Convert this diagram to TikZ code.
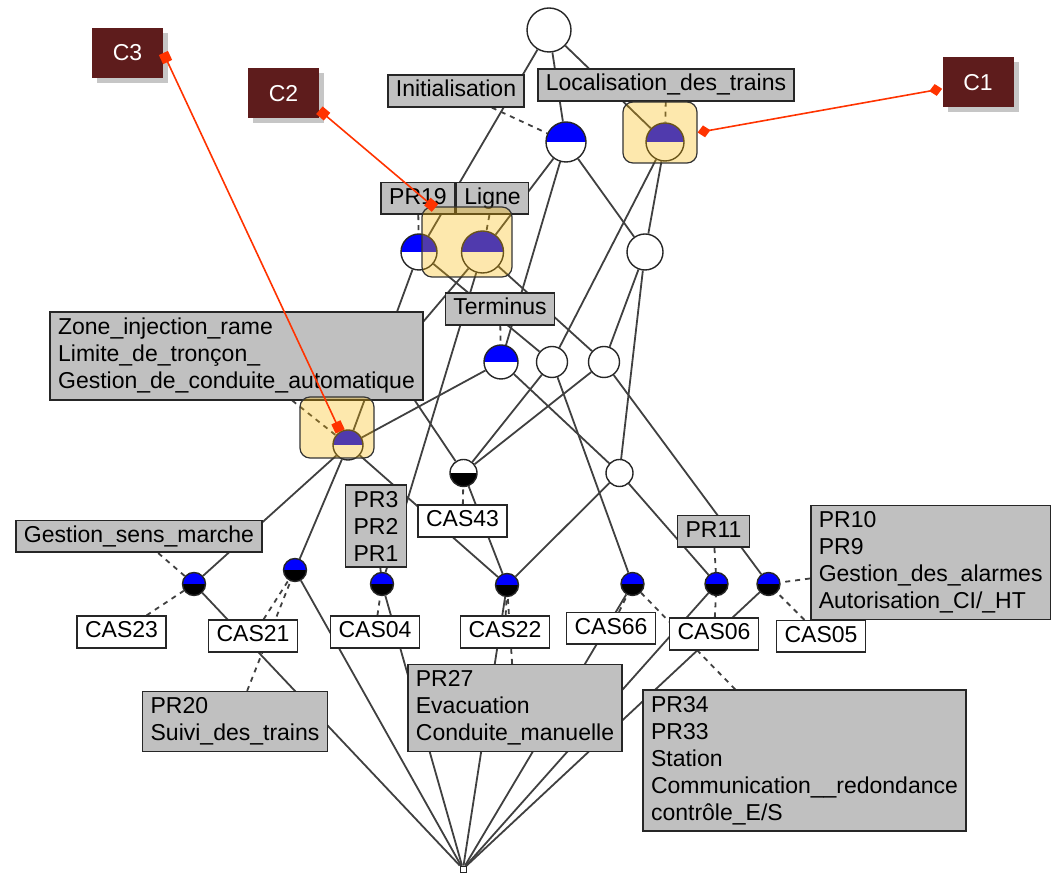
\documentclass[tikz,border=0pt]{standalone}
\usepackage{fontspec}
\setmainfont{Liberation Sans}
\usetikzlibrary{positioning,arrows.meta,shadows}
\definecolor{edgegray}{RGB}{64,64,64}
\definecolor{boxgray}{RGB}{192,192,192}
\definecolor{calloutred}{RGB}{94,28,28}
\definecolor{linkred}{RGB}{255,51,0}
\definecolor{spotyellow}{RGB}{250,183,0}
\pgfdeclarelayer{edges}
\pgfdeclarelayer{marks}
\pgfsetlayers{edges,main,marks}

\begin{document}
\begin{tikzpicture}[x=0.5pt, y=-0.5pt, font=\fontsize{11.5}{13.5}\selectfont,
    ball/.style={circle, draw=black!85, line width=0.7pt, fill=white, inner sep=0pt, minimum size=#1},
    bluetop/.style={path picture={\fill[blue] (path picture bounding box.west) rectangle (path picture bounding box.north east);}},
    blackbottom/.style={path picture={\fill[black] (path picture bounding box.west) rectangle (path picture bounding box.south east);}},
    leaf/.style={ball=11.5pt, fill=black, bluetop},
    attr/.style={draw=black!85, line width=0.8pt, fill=boxgray, inner xsep=4pt, inner ysep=2.3pt, text height=8.6pt, text depth=2.6pt},
    attrs/.style={draw=black!85, line width=0.8pt, fill=boxgray, inner xsep=4pt, inner ysep=3pt, align=left},
    obj/.style={attr, fill=white},
    lattice/.style={draw=edgegray, line width=0.9pt},
    tag/.style={draw=edgegray, line width=0.9pt, dash pattern=on 2.5pt off 2.5pt},
    spot/.style={draw=black!80, line width=0.6pt, rounded corners=5pt, fill=spotyellow, fill opacity=0.32},
    callout/.style={fill=calloutred, text=white, minimum width=35.5pt, minimum height=25pt,
        drop shadow={shadow xshift=2.5pt, shadow yshift=-2.5pt, opacity=0.45}},
    link/.style={draw=linkred, line width=0.8pt}]
    \useasboundingbox (0,0) rectangle (1056,876);

    % concepts
    \node[ball=22pt] (Top) at (549,30) {};
    \node[ball=20pt, bluetop] (Init) at (566,142) {};
    \node[ball=19pt, bluetop] (Loc) at (665,142) {};
    \node[ball=18pt, bluetop] (Pr19) at (419,252) {};
    \node[ball=21pt, bluetop] (Ligne) at (482.5,252) {};
    \node[ball=18pt] (MidR) at (645,252) {};
    \node[ball=17pt, bluetop] (Term) at (501,362) {};
    \node[ball=15.5pt] (MidA) at (552,362) {};
    \node[ball=15.5pt] (MidB) at (604,362) {};
    \coordinate (Hidden) at (389,362);
    \node[ball=15pt, bluetop] (Zone) at (348,445) {};
    \node[ball=13.5pt, blackbottom] (Cas43) at (463.5,473) {};
    \node[ball=13.5pt] (LowR) at (619.5,473) {};
    \node[leaf] (Cas23) at (194,584) {};
    \node[leaf] (Cas21) at (295,570) {};
    \node[leaf] (Cas04) at (382,584) {};
    \node[leaf] (Cas22) at (507,585) {};
    \node[leaf] (Cas66) at (632.5,584) {};
    \node[leaf] (Cas06) at (716.5,584) {};
    \node[leaf] (Cas05) at (768.5,584) {};
    \node[draw=black!85, fill=white, inner sep=0pt, minimum size=3pt] (Bottom) at (463,869) {};

    % labels
    \node[attr] (InitLab) at (456,91) {Initialisation};
    \node[attr] (LocLab) at (666,85) {Localisation\_des\_trains};
    \node[attr] (Pr19Lab) at (418,198.5) {PR19};
    \node[attr, right=0pt of Pr19Lab] (LigneLab) {Ligne};
    \node[attr] (TermLab) at (500,309) {Terminus};
    \node[attrs] (ZoneLab) at (236.5,356) {Zone\_injection\_rame\\Limite\_de\_tronçon\_\\Gestion\_de\_conduite\_automatique};
    \node[attr] (GestLab) at (139,536.5) {Gestion\_sens\_marche};
    \node[attrs] (Pr3Lab) at (376,526) {PR3\\PR2\\PR1};
    \node[obj] (Cas43Lab) at (462.5,521) {CAS43};
    \node[attr] (Pr11Lab) at (713.5,531.5) {PR11};
    \node[attrs, anchor=west] (Pr10Lab) at (810,562.5) {PR10\\PR9\\Gestion\_des\_alarmes\\Autorisation\_CI/\_HT};
    \node[obj] (Cas23Lab) at (121.5,632) {CAS23};
    \node[obj] (Cas21Lab) at (253,636) {CAS21};
    \node[obj] (Cas04Lab) at (375,632) {CAS04};
    \node[obj] (Cas22Lab) at (505,632) {CAS22};
    \node[obj] (Cas66Lab) at (611,628.5) {CAS66};
    \node[obj] (Cas06Lab) at (714,634) {CAS06};
    \node[obj] (Cas05Lab) at (821,636.5) {CAS05};
    \node[attrs] (Pr20Lab) at (235,721.5) {PR20\\Suivi\_des\_trains};
    \node[attrs] (Pr27Lab) at (515,708) {PR27\\Evacuation\\Conduite\_manuelle};
    \node[attrs] (Pr34Lab) at (804.5,760.5) {PR34\\PR33\\Station\\Communication\_\_redondance\\contrôle\_E/S};

    \begin{pgfonlayer}{edges}
        \foreach \a/\b in {Top/Pr19, Top/Init, Top/Loc, Init/Ligne, Init/Term, Init/MidR,
            Loc/MidA, Loc/MidR, Pr19/Zone, Pr19/MidA, Ligne/Hidden, Ligne/Cas04, Ligne/MidB,
            MidR/MidB, MidR/LowR, Term/Zone, Term/LowR, MidA/Cas43, MidA/Cas66,
            MidB/Cas43, MidB/Cas05, Hidden/Cas43, Zone/Cas23, Zone/Cas21, Zone/Cas22,
            Cas43/Cas22, LowR/Cas22, LowR/Cas06, Cas23/Bottom, Cas21/Bottom, Cas04/Bottom,
            Cas22/Bottom, Cas66/Bottom, Cas06/Bottom, Cas05/Bottom}
            \draw[lattice] (\a) -- (\b);
        \foreach \a/\b in {InitLab/Init, LocLab/Loc, Pr19Lab/Pr19, LigneLab/Ligne, TermLab/Term,
            ZoneLab/Zone, GestLab/Cas23, Pr3Lab/Cas04, Cas43Lab/Cas43, Pr11Lab/Cas06, Pr10Lab/Cas05,
            Cas23Lab/Cas23, Cas21Lab/Cas21, Cas04Lab/Cas04, Cas22Lab/Cas22, Cas66Lab/Cas66,
            Cas06Lab/Cas06, Cas05Lab/Cas05, Pr20Lab/Cas21, Pr27Lab/Cas22, Pr34Lab/Cas66}
            \draw[tag] (\a) -- (\b);
    \end{pgfonlayer}

    \begin{pgfonlayer}{marks}
        \node[spot, minimum width=37pt, minimum height=30.5pt] (LocSpot) at (660,132.5) {};
        \node[spot, minimum width=45pt, minimum height=35pt] (LigneSpot) at (467,242) {};
        \node[spot, minimum width=37pt, minimum height=30.5pt] (ZoneSpot) at (337,427.5) {};
        \node[callout] (C3) at (127.5,53) {C3};
        \node[callout] (C2) at (283.5,93.5) {C2};
        \node[callout] (C1) at (978,82.5) {C1};
        \coordinate (C2tip) at (435,208);
        \draw[link, {Square[length=5pt,width=5pt]}-{Square[length=5pt,width=5pt]}] (C3.east) -- (Zone.120);
        \draw[link, {Square[length=5pt,width=5pt]}-{Square[length=5pt,width=5pt]}] (C2.-25) -- (C2tip);
        \draw[link, {Diamond[length=6.5pt,width=6pt]}-{Diamond[length=6.5pt,width=6pt]}] (C1.190) -- (LocSpot.east);
    \end{pgfonlayer}
\end{tikzpicture}
\end{document}
